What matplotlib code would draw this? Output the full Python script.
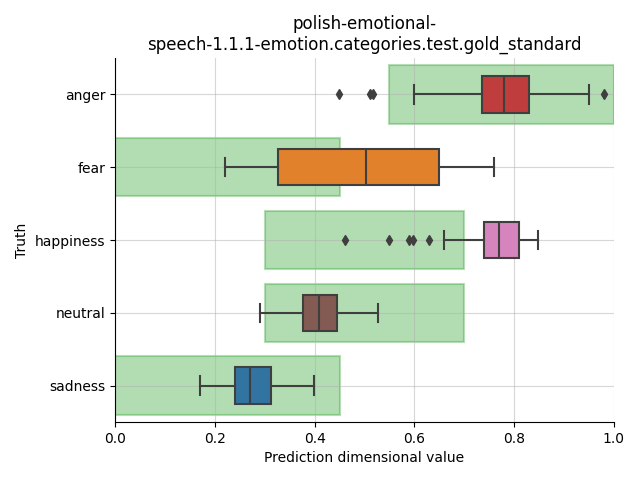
import matplotlib
matplotlib.use("Agg")
import matplotlib.pyplot as plt
from matplotlib.patches import Rectangle

categories = ["anger", "fear", "happiness", "neutral", "sadness"]
colors = ["#c03d3e", "#e1812c", "#d684bd", "#845b53", "#3274a1"]

whislo = [0.599, 0.220, 0.659, 0.291, 0.170]
q1 = [0.735, 0.326, 0.739, 0.376, 0.240]
med = [0.780, 0.504, 0.770, 0.408, 0.270]
q3 = [0.830, 0.649, 0.809, 0.444, 0.312]
whishi = [0.950, 0.760, 0.849, 0.528, 0.398]
fliers = [
    [0.449, 0.511, 0.518, 0.981],
    [],
    [0.460, 0.550, 0.590, 0.598, 0.630],
    [],
    [],
]

range_lo = [0.55, 0.0, 0.3, 0.3, 0.0]
range_hi = [1.0, 0.45, 0.7, 0.7, 0.45]

fig, ax = plt.subplots(figsize=(6.4, 4.8), dpi=100)

for i, (lo, hi) in enumerate(zip(range_lo, range_hi)):
    ax.add_patch(Rectangle((lo, i - 0.4), hi - lo, 0.8,
                           facecolor=(0.17, 0.63, 0.17, 0.36),
                           edgecolor=(0.17, 0.63, 0.17, 0.35), linewidth=1.5))

stats = []
for i in range(len(categories)):
    stats.append(dict(whislo=whislo[i], q1=q1[i], med=med[i], q3=q3[i],
                      whishi=whishi[i], fliers=fliers[i], label=categories[i]))

lc = "#3f3f3f"
bp = ax.bxp(stats, positions=range(len(categories)), widths=0.5,
            orientation="horizontal", patch_artist=True, showfliers=True,
            boxprops=dict(edgecolor=lc, linewidth=1.5),
            medianprops=dict(color=lc, linewidth=1.5),
            whiskerprops=dict(color=lc, linewidth=1.5),
            capprops=dict(color=lc, linewidth=1.5),
            flierprops=dict(marker="d", markerfacecolor=lc, markeredgecolor=lc,
                            markersize=5))
for patch, c in zip(bp["boxes"], colors):
    patch.set_facecolor(c)
for cap in bp["caps"]:
    pass

ax.set_yticks(range(len(categories)))
ax.set_yticklabels(categories)
ax.set_ylim(4.5, -0.5)
ax.set_xlim(0, 1)
ax.grid(True, color="#b0b0b0", alpha=0.5, linewidth=0.8)
ax.spines["top"].set_visible(False)
ax.spines["right"].set_visible(False)
ax.set_xlabel("Prediction dimensional value")
ax.set_ylabel("Truth")
ax.set_title("polish-emotional-\nspeech-1.1.1-emotion.categories.test.gold_standard")

fig.subplots_adjust(left=0.18, right=0.959, top=0.879, bottom=0.121)
fig.savefig("out.png", dpi=100)
